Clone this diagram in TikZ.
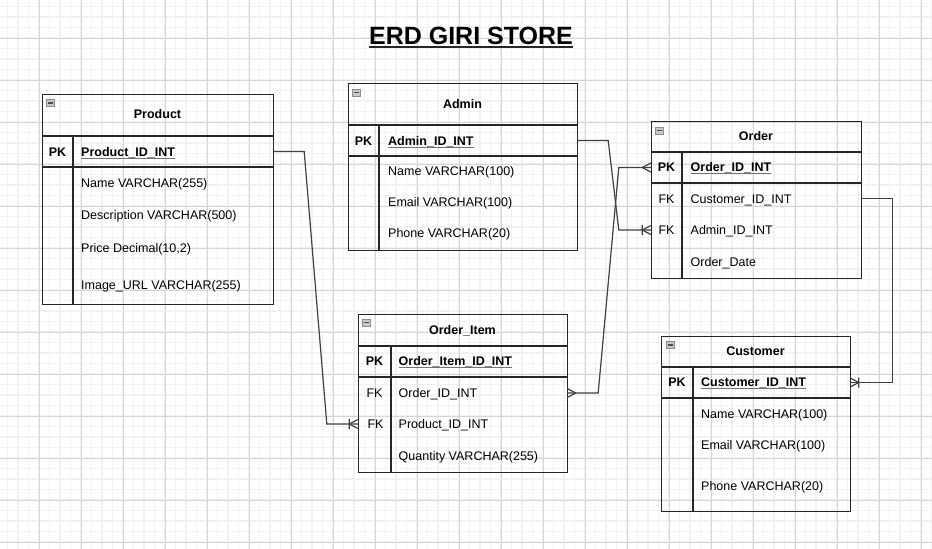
\documentclass[tikz,border=0pt]{standalone}
\usepackage{fontspec}
\setmainfont{Liberation Sans}
\newcommand{\keyline}[1]{\setbox0=\hbox{#1}\rlap{\color{black!55}\vrule height -1.5pt depth 2.8pt width \wd0}\box0}

\begin{document}
\begin{tikzpicture}[x=1pt, y=-1pt, font=\fontsize{12.5}{15}\selectfont,
    minor/.style={black!5, line width=1.5},
    major/.style={black!16, line width=0.9},
    tbl/.style={draw=black!85, line width=1.3, anchor=north west, inner sep=0},
    tline/.style={black!85, line width=1.3},
    rowband/.style={inner sep=0, minimum height=31},
    hdr/.style={font=\fontsize{12.5}{15}\selectfont\bfseries, anchor=base, yshift=-4.5, inner sep=0},
    key/.style={anchor=base, yshift=-4.5, inner sep=0},
    fld/.style={anchor=base west, yshift=-4.5, inner sep=0},
    pkfld/.style={fld, font=\fontsize{12.5}{15}\selectfont\bfseries},
    fold/.style={draw=black!45, fill=black!22, line width=0.6, inner sep=0, minimum width=8, minimum height=7,
        path picture={\draw[black!70, line width=1.1] ([xshift=1.5]path picture bounding box.west) -- ([xshift=-1.5]path picture bounding box.east);}},
    link/.style={black!75, line width=1.2},
    many/.pic={\draw[link] (-8.5,0) -- (0,-4.5) (-8.5,0) -- (0,4.5);},
    onemany/.pic={\draw[link] (-8.5,0) -- (0,-4.5) (-8.5,0) -- (0,4.5) (-8.5,-5) -- (-8.5,5);}]
    \useasboundingbox (0,0) rectangle (932,549);
    \fill[white] (0,0) rectangle (932,549);
    % grid
    \foreach \i in {0,...,88} \draw[minor] ({7.5+10.5*\i},0) -- ++(0,549);
    \foreach \j in {0,...,51} \draw[minor] (0,{6.5+10.5*\j}) -- ++(932,0);
    \foreach \i in {0,...,21} \draw[major] ({39+42*\i},0) -- ++(0,549);
    \foreach \j in {0,...,12} \draw[major] (0,{38+42*\j}) -- ++(932,0);

    \node[inner sep=0, anchor=base, font=\fontsize{25}{29}\selectfont\bfseries] (title) at (471,44.3) {ERD GIRI STORE};
    \draw[line width=2.2, black!85] ([yshift=-3]title.base west) -- ([yshift=-3]title.base east);

    % Product
    \node[tbl, minimum width=231, minimum height=210] (product) at (42,94) {};
    \draw[tline] (42,136) -- (273,136) (42,167) -- (273,167) (73,136) -- (73,304);
    \node[fold] (product-fold) at (50.5,103) {};
    \node[rowband, minimum width=231] (product-pk) at (157.5,151.5) {};
    \node[hdr] (product-title) at (157.5,114) {Product};
    \node[hdr] (product-k1) at (57.5,151.5) {PK};
    \node[pkfld] (product-f1) at (81,151.5) {\keyline{Product\_ID\_INT}};
    \node[fld] (product-f2) at (81,182.5) {Name VARCHAR(255)};
    \node[fld] (product-f3) at (81,215) {Description VARCHAR(500)};
    \node[fld] (product-f4) at (81,248) {Price Decimal(10,2)};
    \node[fld] (product-f5) at (81,285) {Image\_URL VARCHAR(255)};

    % Admin
    \node[tbl, minimum width=229, minimum height=167] (admin) at (348,83) {};
    \draw[tline] (348,125) -- (577,125) (348,156) -- (577,156) (379,125) -- (379,250);
    \node[fold] (admin-fold) at (356.5,92.5) {};
    \node[rowband, minimum width=229] (admin-pk) at (462.5,140.5) {};
    \node[hdr] (admin-title) at (462.5,103.5) {Admin};
    \node[hdr] (admin-k1) at (363.5,140.5) {PK};
    \node[pkfld] (admin-f1) at (388,140.5) {\keyline{Admin\_ID\_INT}};
    \node[fld] (admin-f2) at (388,171) {Name VARCHAR(100)};
    \node[fld] (admin-f3) at (388,202) {Email VARCHAR(100)};
    \node[fld] (admin-f4) at (388,233) {Phone VARCHAR(20)};

    % Order
    \node[tbl, minimum width=210, minimum height=157] (order) at (651,121) {};
    \draw[tline] (651,152) -- (861,152) (651,183) -- (861,183) (682,152) -- (682,278);
    \node[fold] (order-fold) at (659,130.3) {};
    \node[rowband, minimum width=210] (order-pk) at (756,167.5) {};
    \node[rowband, minimum width=210] (order-cust) at (756,198.5) {};
    \node[rowband, minimum width=210] (order-admin) at (756,230) {};
    \node[hdr] (order-title) at (756,135.5) {Order};
    \node[hdr] (order-k1) at (666.5,167) {PK};
    \node[key] (order-k2) at (666.5,198.5) {FK};
    \node[key] (order-k3) at (666.5,229.5) {FK};
    \node[pkfld] (order-f1) at (690.5,167) {\keyline{Order\_ID\_INT}};
    \node[fld] (order-f2) at (690.5,198.5) {Customer\_ID\_INT};
    \node[fld] (order-f3) at (690.5,229.5) {Admin\_ID\_INT};
    \node[fld] (order-f4) at (690.5,261.5) {Order\_Date};

    % Order_Item
    \node[tbl, minimum width=209, minimum height=158] (item) at (358,314) {};
    \draw[tline] (358,346) -- (567,346) (358,377) -- (567,377) (391,346) -- (391,472);
    \node[fold] (item-fold) at (366.7,322.8) {};
    \node[rowband, minimum width=209] (item-order) at (462.5,393) {};
    \node[rowband, minimum width=209] (item-prod) at (462.5,424) {};
    \node[hdr] (item-title) at (462.5,329.5) {Order\_Item};
    \node[hdr] (item-k1) at (374.5,360.5) {PK};
    \node[key] (item-k2) at (374.5,392.5) {FK};
    \node[key] (item-k3) at (375.5,424) {FK};
    \node[pkfld] (item-f1) at (398.5,360.5) {\keyline{Order\_Item\_ID\_INT}};
    \node[fld] (item-f2) at (398.5,392.5) {Order\_ID\_INT};
    \node[fld] (item-f3) at (398.5,424) {Product\_ID\_INT};
    \node[fld] (item-f4) at (398.5,456) {Quantity VARCHAR(255)};

    % Customer
    \node[tbl, minimum width=189, minimum height=175] (customer) at (661,336) {};
    \draw[tline] (661,367) -- (850,367) (661,398) -- (850,398) (693,367) -- (693,511);
    \node[fold] (customer-fold) at (670,345) {};
    \node[rowband, minimum width=189] (customer-pk) at (755.5,382.5) {};
    \node[hdr] (customer-title) at (755.5,351) {Customer};
    \node[hdr] (customer-k1) at (677,382) {PK};
    \node[pkfld] (customer-f1) at (701,382) {\keyline{Customer\_ID\_INT}};
    \node[fld] (customer-f2) at (701,414) {Name VARCHAR(100)};
    \node[fld] (customer-f3) at (701,444.5) {Email VARCHAR(100)};
    \node[fld] (customer-f4) at (701,486) {Phone VARCHAR(20)};

    % relations
    \draw[link] (product-pk.east) -- ++(31,0) -- ([xshift=-31]item-prod.west) -- (item-prod.west);
    \pic at (item-prod.west) {onemany};
    \draw[link] (admin-pk.east) -- ++(31,0) -- ([xshift=-32]order-admin.west) -- (order-admin.west);
    \pic at (order-admin.west) {onemany};
    \draw[link] (item-order.east) -- ++(31,0) -- ([xshift=-32]order-pk.west) -- (order-pk.west);
    \pic at (order-pk.west) {many};
    \pic[rotate=180] at (item-order.east) {many};
    \draw[link] (order-cust.east) -- ++(31,0) |- (customer-pk.east);
    \pic[rotate=180] at (customer-pk.east) {onemany};
\end{tikzpicture}
\end{document}
